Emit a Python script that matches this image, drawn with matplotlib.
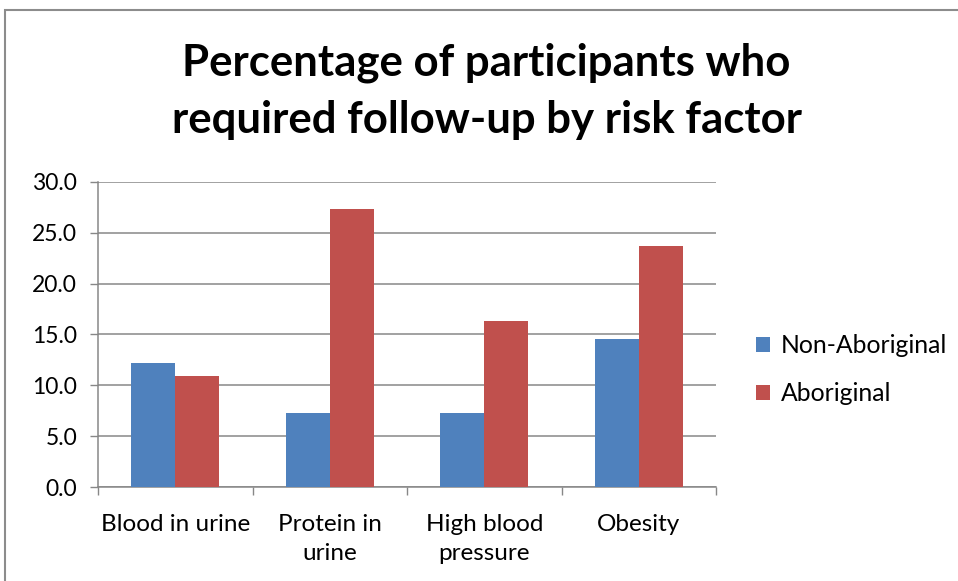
import numpy as np
import matplotlib as mpl
import matplotlib.pyplot as plt
from matplotlib.patches import Rectangle
from matplotlib.ticker import FormatStrFormatter

CATEGORIES = ["Blood in urine", "Protein in\nurine", "High blood\npressure", "Obesity"]
NON_ABORIGINAL = [12.2, 7.3, 7.3, 14.6]
ABORIGINAL = [10.9, 27.3, 16.35, 23.65]
SERIES = ["Non-Aboriginal", "Aboriginal"]
Y_TICKS = [0, 5, 10, 15, 20, 25, 30]

BLUE = "#4F81BD"
RED = "#C0504D"
GRID = "#878787"

mpl.rcParams["font.family"] = ["Lato", "DejaVu Sans"]


def main():
    fig = plt.figure(figsize=(9.58, 5.81), dpi=100)
    ax = fig.add_axes([0.1023, 0.1613, 0.6451, 0.5260])

    # chart area border
    fig.patches.append(Rectangle(
        (5 / 958, -0.05), 1.0, 1 - 10 / 581 + 0.05,
        transform=fig.transFigure, fill=False,
        edgecolor="#8c8c8c", linewidth=1.5
    ))

    x = np.arange(len(CATEGORIES))
    w = 1 / 3.5

    ax.bar(x - w / 2, NON_ABORIGINAL, width=w, color=BLUE,
           label=SERIES[0], zorder=3)
    ax.bar(x + w / 2, ABORIGINAL, width=w, color=RED,
           label=SERIES[1], zorder=3)

    ax.set_xlim(-0.5, len(CATEGORIES) - 0.5)
    ax.set_ylim(0, 30)
    ax.set_yticks(Y_TICKS)
    ax.yaxis.set_major_formatter(FormatStrFormatter("%.1f"))

    ax.set_xticks(np.arange(-0.5, len(CATEGORIES), 1.0))
    ax.set_xticklabels([])
    ax.set_xticks(x, minor=True)
    ax.set_xticklabels(CATEGORIES, minor=True, fontsize=17.5,
                       linespacing=1.5, va="top")

    ax.tick_params(axis="x", which="major", length=6, width=1,
                   color=GRID, direction="out")
    ax.tick_params(axis="x", which="minor", length=0, pad=19)
    ax.tick_params(axis="y", length=6, width=1, color=GRID,
                   labelsize=16.5, pad=9)

    ax.yaxis.grid(True, color=GRID, linewidth=1.1, zorder=0)
    ax.set_axisbelow(True)

    for side in ["top", "right"]:
        ax.spines[side].set_visible(False)
    for side in ["left", "bottom"]:
        ax.spines[side].set_color(GRID)
        ax.spines[side].set_linewidth(1.1)

    fig.text(0.508, 0.843,
             "Percentage of participants who\nrequired follow-up by risk factor",
             ha="center", va="center", fontsize=31.5, fontweight="bold",
             linespacing=1.5)

    ax.legend(loc="center left", bbox_to_anchor=(1.029, 0.385),
              frameon=False, fontsize=17.8, handlelength=0.55,
              handleheight=0.55, handletextpad=0.45, labelspacing=1.0)

    fig.savefig("out.png", dpi=100)
    plt.close(fig)


if __name__ == "__main__":
    main()
